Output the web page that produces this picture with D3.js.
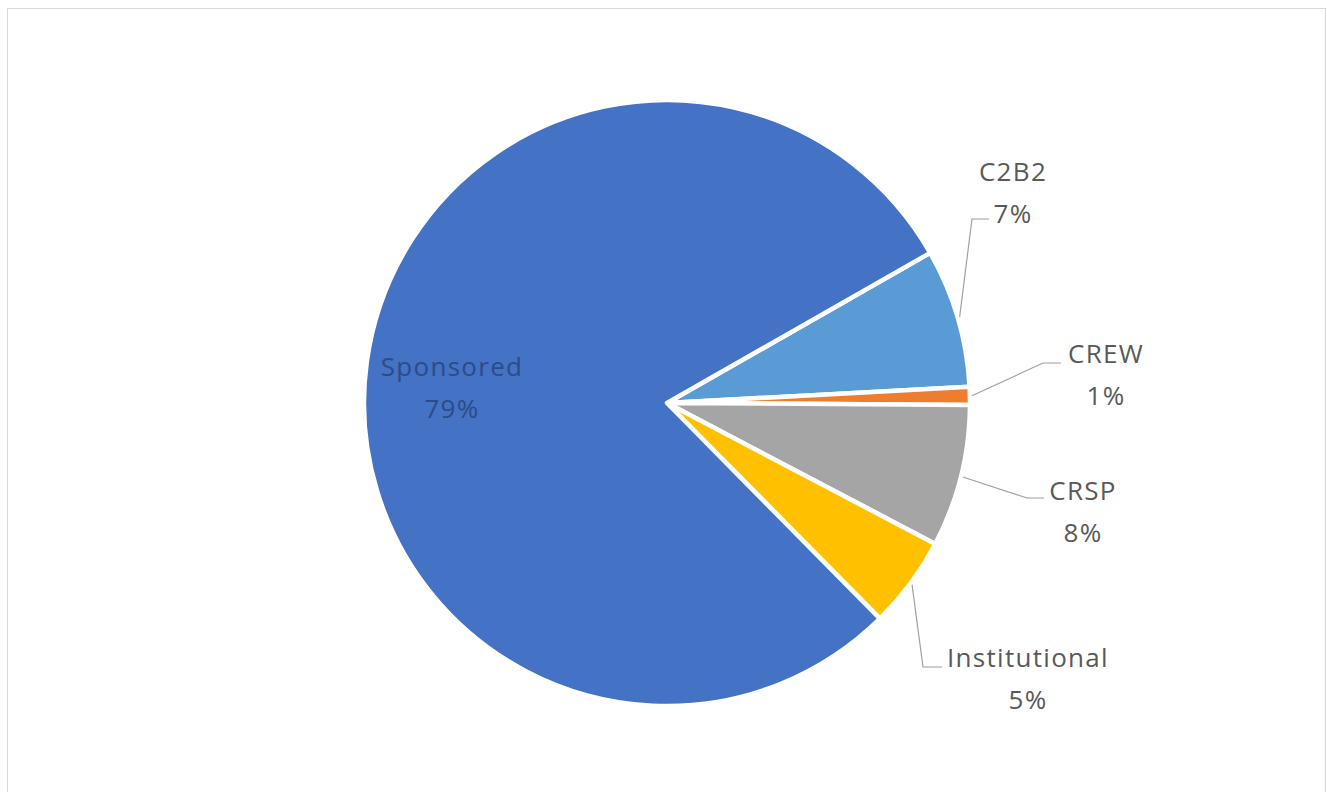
<!DOCTYPE html>
<html>
<head>
<meta charset="utf-8">
<script src="https://cdn.jsdelivr.net/npm/d3@7"></script>
<style>
  html, body { margin: 0; padding: 0; background: #ffffff; }
  svg { display: block; }
</style>
</head>
<body>
<svg id="chart" width="1327" height="792"></svg>
<script>
// ---- data ----
const categories = ["C2B2", "CREW", "CRSP", "Institutional", "Sponsored"];
const values = [7.4, 0.95, 7.6, 4.9, 79.15];
const percentLabels = ["7%", "1%", "8%", "5%", "79%"];
const colors = ["#5B9BD5", "#ED7D31", "#A5A5A5", "#FFC000", "#4472C4"];

// ---- layout (not data) ----
const W = 1327, H = 792;
const cx = 667, cy = 403, R = 303;
const startDeg = 60.3;
// label layout: text center x, first baseline y, leader elbow & end (null = inside label)
const labelLayout = [
  { tx: 1013, ty: 181, elbow: [972, 219], end: [989, 219] },
  { tx: 1106, ty: 363, elbow: [1043, 363], end: [1061, 363] },
  { tx: 1083, ty: 500, elbow: [1027, 498], end: [1044, 498] },
  { tx: 1028, ty: 667, elbow: [923, 667], end: [942, 667] },
  { tx: 452, ty: 376, elbow: null, end: null }
];

const svg = d3.select("#chart");

// chart border
svg.append("rect")
  .attr("x", 7.5).attr("y", 8.5)
  .attr("width", 1318).attr("height", 800)
  .attr("fill", "#ffffff")
  .attr("stroke", "#d9d9d9")
  .attr("stroke-width", 1);

const pie = d3.pie()
  .sort(null)
  .value(d => d.value)
  .startAngle(startDeg * Math.PI / 180)
  .endAngle(startDeg * Math.PI / 180 + 2 * Math.PI);

const rows = categories.map((c, i) => ({
  name: c, value: values[i], pct: percentLabels[i], color: colors[i], layout: labelLayout[i]
}));
const arcs = pie(rows);

const arc = d3.arc().innerRadius(0).outerRadius(R);

const g = svg.append("g").attr("transform", `translate(${cx},${cy})`);

g.selectAll("path.slice")
  .data(arcs)
  .join("path")
  .attr("class", "slice")
  .attr("d", arc)
  .attr("fill", d => d.data.color)
  .attr("stroke", "#ffffff")
  .attr("stroke-width", 4.5)
  .attr("stroke-linejoin", "round");

// leader lines
arcs.forEach(d => {
  const L = d.data.layout;
  if (!L.elbow) return;
  const mid = (d.startAngle + d.endAngle) / 2;
  const sx = cx + Math.sin(mid) * (R + 2);
  const sy = cy - Math.cos(mid) * (R + 2);
  svg.append("polyline")
    .attr("points", [[sx, sy], L.elbow, L.end].map(p => p.join(",")).join(" "))
    .attr("fill", "none")
    .attr("stroke", "#a0a0a0")
    .attr("stroke-width", 1.2);
});

// labels
const font = "'Open Sans', 'DejaVu Sans', sans-serif";
arcs.forEach(d => {
  const L = d.data.layout;
  const inside = !L.elbow;
  const t = svg.append("text")
    .attr("text-anchor", "middle")
    .attr("font-family", font)
    .attr("font-size", 26)
    .attr("letter-spacing", "1.3px")
    .attr("fill", inside ? "#2d4b88" : "#595959");
  t.append("tspan").attr("x", L.tx).attr("y", L.ty).text(d.data.name);
  t.append("tspan").attr("x", L.tx).attr("y", L.ty + 42).text(d.data.pct);
});
</script>
</body>
</html>
